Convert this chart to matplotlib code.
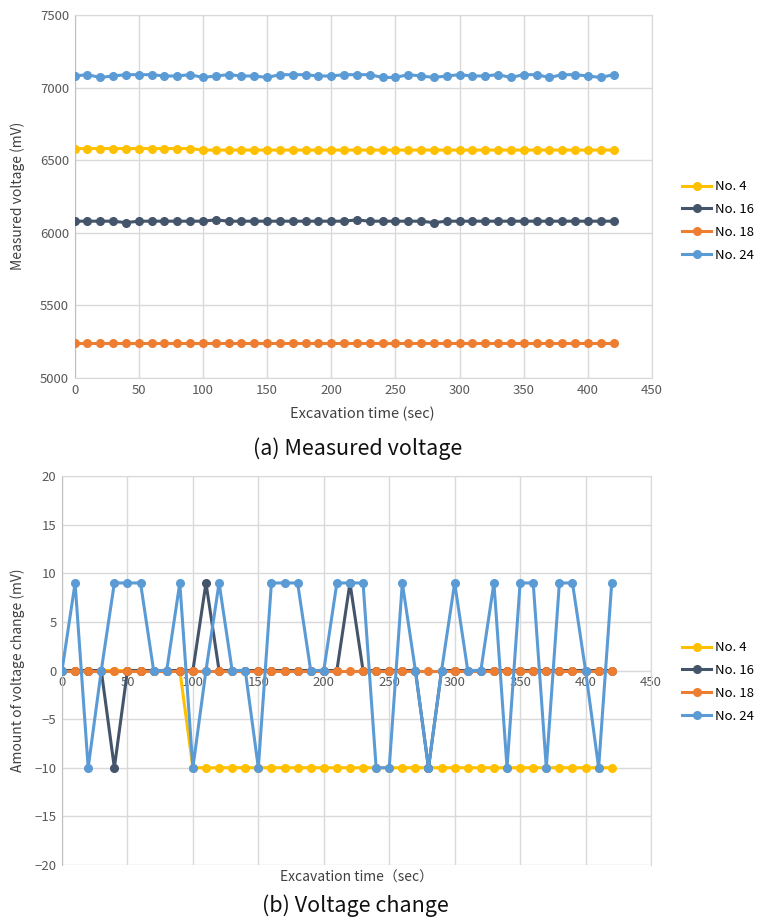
import matplotlib
matplotlib.use("Agg")
import matplotlib.pyplot as plt
from matplotlib.lines import Line2D

plt.rcParams['font.family'] = ['Noto Sans CJK KR', 'DejaVu Sans']

time_sec = [0, 10, 20, 30, 40, 50, 60, 70, 80, 90, 100, 110, 120, 130, 140, 150, 160, 170, 180, 190,
            200, 210, 220, 230, 240, 250, 260, 270, 280, 290, 300, 310, 320, 330, 340, 350, 360, 370,
            380, 390, 400, 410, 420]

# (a) Measured voltage (mV)
v_no4 = [6580, 6580, 6580, 6580, 6580, 6580, 6580, 6580, 6580, 6580, 6570, 6570, 6570, 6570, 6570,
         6570, 6570, 6570, 6570, 6570, 6570, 6570, 6570, 6570, 6570, 6570, 6570, 6570, 6570, 6570,
         6570, 6570, 6570, 6570, 6570, 6570, 6570, 6570, 6570, 6570, 6570, 6570, 6570]
v_no16 = [6080, 6080, 6080, 6080, 6070, 6080, 6080, 6080, 6080, 6080, 6080, 6089, 6080, 6080, 6080,
          6080, 6080, 6080, 6080, 6080, 6080, 6080, 6089, 6080, 6080, 6080, 6080, 6080, 6070, 6080,
          6080, 6080, 6080, 6080, 6080, 6080, 6080, 6080, 6080, 6080, 6080, 6080, 6080]
v_no18 = [5240] * 43
v_no24 = [7080, 7089, 7070, 7080, 7089, 7089, 7089, 7080, 7080, 7089, 7070, 7080, 7089, 7080, 7080,
          7070, 7089, 7089, 7089, 7080, 7080, 7089, 7089, 7089, 7070, 7070, 7089, 7080, 7070, 7080,
          7089, 7080, 7080, 7089, 7070, 7089, 7089, 7070, 7089, 7089, 7080, 7070, 7089]

# (b) Voltage change (mV)
d_no4 = [0, 0, 0, 0, 0, 0, 0, 0, 0, 0, -10, -10, -10, -10, -10, -10, -10, -10, -10, -10, -10, -10,
         -10, -10, -10, -10, -10, -10, -10, -10, -10, -10, -10, -10, -10, -10, -10, -10, -10, -10,
         -10, -10, -10]
d_no16 = [0, 0, 0, 0, -10, 0, 0, 0, 0, 0, 0, 9, 0, 0, 0, 0, 0, 0, 0, 0, 0, 0, 9, 0, 0, 0, 0, 0,
          -10, 0, 0, 0, 0, 0, 0, 0, 0, 0, 0, 0, 0, 0, 0]
d_no18 = [0] * 43
d_no24 = [0, 9, -10, 0, 9, 9, 9, 0, 0, 9, -10, 0, 9, 0, 0, -10, 9, 9, 9, 0, 0, 9, 9, 9, -10, -10,
          9, 0, -10, 0, 9, 0, 0, 9, -10, 9, 9, -10, 9, 9, 0, -10, 9]

labels = ['No. 4', 'No. 16', 'No. 18', 'No. 24']
colors = ['#FFC000', '#44546A', '#ED7D31', '#5B9BD5']

W, H = 763, 921
fig = plt.figure(figsize=(W / 100, H / 100), dpi=100)

def fx(px):
    return px / W

def fy(py):
    return 1 - py / H

grid_c = '#D9D9D9'
tick_c = '#595959'

# ---- top axes
ax1 = fig.add_axes([fx(74.5), fy(378), fx(652) - fx(74.5), fy(15) - fy(378)])
for s, c in zip([v_no4, v_no16, v_no18, v_no24], colors):
    ax1.plot(time_sec, s, color=c, lw=2.2, marker='o', ms=5.5, zorder=3)
ax1.set_xlim(0, 450)
ax1.set_ylim(5000, 7500)
ax1.set_xticks(range(0, 451, 50))
ax1.set_yticks(range(5000, 7501, 500))
ax1.grid(True, color=grid_c, lw=1)
ax1.set_axisbelow(True)
for sp in ax1.spines.values():
    sp.set_color(grid_c)
ax1.spines['left'].set_color('#BFBFBF')
ax1.tick_params(length=0, labelsize=9.5, labelcolor=tick_c, pad=4)

# ---- bottom axes
ax2 = fig.add_axes([fx(62), fy(865), fx(651) - fx(62), fy(476) - fy(865)])
for s, c in zip([d_no4, d_no16, d_no18, d_no24], colors):
    ax2.plot(time_sec, s, color=c, lw=2.2, marker='o', ms=5.5, zorder=3)
ax2.set_xlim(0, 450)
ax2.set_ylim(-20, 20)
ax2.set_xticks(range(0, 451, 50))
ax2.set_yticks(range(-20, 21, 5))
ax2.grid(True, color=grid_c, lw=1)
ax2.set_axisbelow(True)
for sp in ax2.spines.values():
    sp.set_color(grid_c)
ax2.spines['bottom'].set_position(('data', 0))
ax2.spines['left'].set_color('#BFBFBF')
ax2.tick_params(length=0, labelsize=9.5, labelcolor=tick_c, pad=4)

# ---- texts
fig.text(fx(18), fy(196), 'Measured voltage (mV)', rotation=90, ha='center', va='center',
         fontsize=10, color='#404040')
fig.text(fx(362), fy(414), 'Excavation time (sec)', ha='center', va='center', fontsize=10.5,
         color='#404040')
fig.text(fx(358), fy(449), '(a) Measured voltage', ha='center', va='center', fontsize=15.5,
         color='#111111')
fig.text(fx(18), fy(670), 'Amount of voltage change (mV)', rotation=90, ha='center', va='center',
         fontsize=10, color='#404040')
fig.text(fx(356), fy(878), 'Excavation time（sec）', ha='center', va='center', fontsize=10,
         color='#404040')
fig.text(fx(355), fy(906), '(b) Voltage change', ha='center', va='center', fontsize=15.5,
         color='#111111')

handles = [Line2D([0], [0], color=c, lw=2.2, marker='o', ms=5.5) for c in colors]
for ycen in (221, 682):
    fig.legend(handles, labels, loc='center left', bbox_to_anchor=(fx(682), fy(ycen)),
               frameon=False, fontsize=9.5, handlelength=2.2, handletextpad=0.3,
               labelspacing=0.75, borderaxespad=0, borderpad=0)

fig.savefig('out.png', dpi=100)
